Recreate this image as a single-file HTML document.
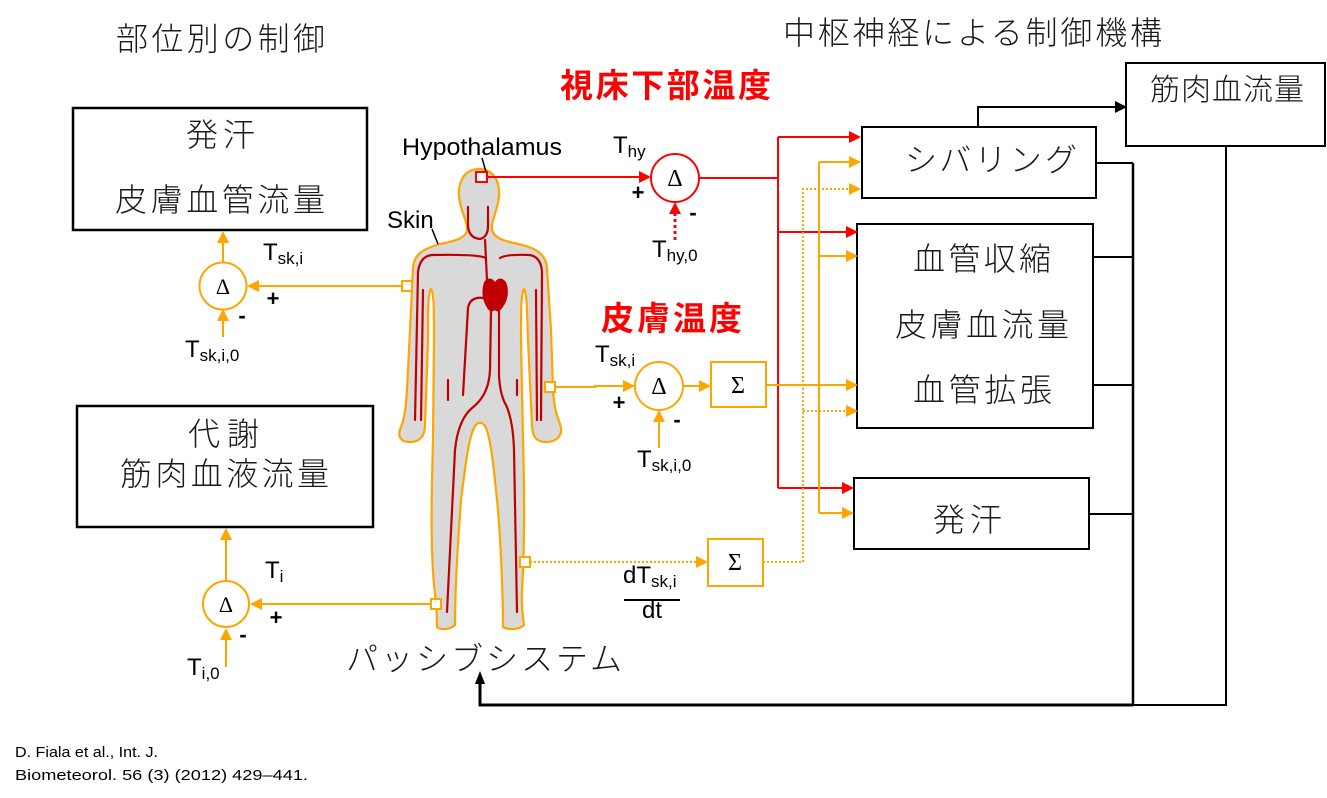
<!DOCTYPE html>
<html><head><meta charset="utf-8"><style>
html,body{margin:0;padding:0;background:#fff;overflow:hidden}
svg{display:block}
.jp{font-family:"Liberation Sans","Noto Sans CJK JP",sans-serif;fill:#1a1a1a;font-weight:300}
.en{font-family:"Liberation Sans",sans-serif;fill:#000}
.sf{font-family:"Liberation Serif","DejaVu Serif",serif;fill:#000}
</style></head><body>
<svg xmlns="http://www.w3.org/2000/svg" width="1327" height="798" viewBox="0 0 1327 798">
<rect width="1327" height="798" fill="#fff"/>

<!-- Titles -->
<text class="jp" x="116" y="50" font-size="32" textLength="209" lengthAdjust="spacing">部位別の制御</text>
<text class="jp" x="783" y="44" font-size="32" textLength="379" lengthAdjust="spacing">中枢神経による制御機構</text>
<text x="560" y="97" font-size="33" font-weight="bold" fill="#ff0000" style="font-family:'Liberation Sans','Noto Sans CJK JP',sans-serif" textLength="211" lengthAdjust="spacing">視床下部温度</text>
<text x="601" y="330" font-size="33" font-weight="bold" fill="#ff0000" style="font-family:'Liberation Sans','Noto Sans CJK JP',sans-serif" textLength="141" lengthAdjust="spacing">皮膚温度</text>

<!-- Left boxes -->
<rect x="73" y="108" width="294" height="122" fill="none" stroke="#000" stroke-width="2.5"/>
<text class="jp" x="186" y="146" font-size="32" textLength="69" lengthAdjust="spacing">発汗</text>
<text class="jp" x="115" y="211" font-size="32" textLength="210" lengthAdjust="spacing">皮膚血管流量</text>
<rect x="77" y="406" width="296" height="121" fill="none" stroke="#000" stroke-width="2.5"/>
<text class="jp" x="188" y="445" font-size="32" textLength="71" lengthAdjust="spacing">代謝</text>
<text class="jp" x="120" y="485" font-size="32" textLength="209" lengthAdjust="spacing">筋肉血液流量</text>

<!-- Right boxes -->
<rect x="862" y="127" width="234" height="71" fill="none" stroke="#000" stroke-width="2"/>
<text class="jp" x="905" y="171" font-size="32" textLength="172" lengthAdjust="spacing">シバリング</text>
<rect x="1126" y="63" width="199" height="83" fill="none" stroke="#000" stroke-width="2"/>
<text class="jp" x="1150" y="100" font-size="30" textLength="154" lengthAdjust="spacing">筋肉血流量</text>
<rect x="857" y="224" width="236" height="204" fill="none" stroke="#000" stroke-width="2"/>
<text class="jp" x="913" y="270" font-size="32" textLength="138" lengthAdjust="spacing">血管収縮</text>
<text class="jp" x="895" y="336" font-size="32" textLength="174" lengthAdjust="spacing">皮膚血流量</text>
<text class="jp" x="913" y="401" font-size="32" textLength="139" lengthAdjust="spacing">血管拡張</text>
<rect x="854" y="478" width="235" height="71" fill="none" stroke="#000" stroke-width="2"/>
<text class="jp" x="933" y="531" font-size="32" textLength="69" lengthAdjust="spacing">発汗</text>

<!-- Body -->
<path d="M479,169 C492,169 500,179 499,196 C498,211 491,219 492,229 C493,238 504,241 518,244 C536,248 546,254 547,268 L551,330 L553,390 C554,405 556,414 560,424 C564,436 556,442 546,442 C536,442 532,436 532,425 L528,340 C527,310 527,293 524,289 C521,293 521,310 521,340 L523,440 C525,500 524,560 522,590 C521,605 523,616 524,625 C519,630 508,630 503,627 C503,600 501,540 497,500 C494,470 491,440 486,428 C483,421 477,421 474,428 C468,440 465,470 461,500 C458,540 455,590 455,625 C450,630 440,630 437,627 C437,615 436,600 434,585 C430,540 432,480 433,440 L434,340 C434,310 434,293 431,289 C428,293 428,310 428,340 L425,425 C425,436 420,442 410,442 C400,442 397,436 401,427 C405,417 406,405 407,390 L410,330 L413,268 C414,254 423,249 440,244 C455,241 467,238 467,229 C467,219 460,211 459,196 C458,179 466,169 479,169 Z" fill="#d9d9d9" stroke="#FFA500" stroke-width="2.2"/>
<g fill="none" stroke="#c00000" stroke-width="2.2" stroke-linecap="round">
<path d="M468,207 L468,226 Q469,238 480,239 Q488,237 488,226 L488,207"/>
<path d="M485,240 L487,280"/>
<path d="M486,258 Q478,254 432,255 Q420,256 418,272 L415,420"/>
<path d="M423,290 L421,420"/>
<path d="M500,258 Q506,254 530,255 Q541,257 542,272 L541,420"/>
<path d="M536,290 L537,420"/>
<path d="M484,298 Q470,296 468,308 L463,395"/>
<path d="M491,310 L490,370 Q489,395 472,408 Q458,420 455,450 L447,612"/>
<path d="M499,310 L499,375 Q500,395 506,405 Q513,420 514,450 L517,612"/>
<path d="M448,380 L448,400"/>
<path d="M517,380 L517,395"/>
</g>
<path d="M484,282 Q490,275 495,282 Q500,275 506,282 Q511,295 503,307 Q498,314 495,310 Q490,314 486,306 Q480,295 484,282 Z" fill="#c00000"/>

<!-- Labels on body -->
<text class="en" x="402" y="155" font-size="24" textLength="160" lengthAdjust="spacingAndGlyphs">Hypothalamus</text>
<text class="en" x="387" y="228" font-size="24">Skin</text>
<line x1="482" y1="158" x2="486" y2="172" stroke="#000" stroke-width="1.5"/>
<line x1="432" y1="229" x2="438" y2="244" stroke="#000" stroke-width="1.5"/>

<!-- Red lines -->
<g fill="none" stroke="#ff0000" stroke-width="2">
<path d="M487,177 H640"/>
<path d="M699,178 H778"/>
<path d="M778,137 V488"/>
<path d="M778,137 H849"/>
<path d="M778,232 H846"/>
<path d="M778,488 H842"/>
<path d="M675,240 V213" stroke-width="3" stroke-dasharray="3 3"/>
</g>
<g fill="#ff0000">
<polygon points="651,177 639,171 639,183"/>
<polygon points="675,202 669,214 681,214"/>
<polygon points="861,137 849,131 849,143"/>
<polygon points="858,232 846,226 846,238"/>
<polygon points="854,488 842,482 842,494"/>
</g>
<circle cx="675" cy="178" r="24" fill="#fff" stroke="#ff0000" stroke-width="2"/>
<text class="sf" x="675" y="186" font-size="24" text-anchor="middle">Δ</text>
<rect x="476" y="172" width="11" height="10" fill="#fff" stroke="#ff0000" stroke-width="2"/>

<!-- Orange lines -->
<g fill="none" stroke="#FFA500" stroke-width="2">
<path d="M223,262 V242"/>
<path d="M407,286 H258"/>
<path d="M223,337 V320"/>
<path d="M226,581 V539"/>
<path d="M436,604 H261"/>
<path d="M226,667 V639"/>
<path d="M550,387 H595 V386 H624"/>
<path d="M659,448 V421"/>
<path d="M683,386 H700"/>
<path d="M766,385 H846"/>
<path d="M819,162 V513"/>
<path d="M819,162 H849"/>
<path d="M819,256 H846"/>
<path d="M819,513 H842"/>
</g>
<g fill="none" stroke="#FFA500" stroke-width="2" stroke-dasharray="2 2">
<path d="M530,562 H697"/>
<path d="M763,562 H803 V189 H849"/>
<path d="M803,411 H846"/>
</g>
<g fill="#FFA500">
<polygon points="223,231 217,243 229,243"/>
<polygon points="247,286 259,280 259,292"/>
<polygon points="223,309 217,321 229,321"/>
<polygon points="226,528 220,540 232,540"/>
<polygon points="250,604 262,598 262,610"/>
<polygon points="226,628 220,640 232,640"/>
<polygon points="635,386 623,380 623,392"/>
<polygon points="659,410 653,422 665,422"/>
<polygon points="711,386 699,380 699,392"/>
<polygon points="858,385 846,379 846,391"/>
<polygon points="861,162 849,156 849,168"/>
<polygon points="858,256 846,250 846,262"/>
<polygon points="854,513 842,507 842,519"/>
<polygon points="708,562 696,556 696,568"/>
<polygon points="861,189 849,183 849,195"/>
<polygon points="858,411 846,405 846,417"/>
</g>
<circle cx="223" cy="286" r="23.5" fill="#fff" stroke="#FFA500" stroke-width="2"/>
<text class="sf" x="223" y="294" font-size="22" text-anchor="middle">Δ</text>
<circle cx="226" cy="604" r="23" fill="#fff" stroke="#FFA500" stroke-width="2"/>
<text class="sf" x="226" y="612" font-size="22" text-anchor="middle">Δ</text>
<circle cx="659" cy="386" r="24" fill="#fff" stroke="#FFA500" stroke-width="2"/>
<text class="sf" x="659" y="394" font-size="24" text-anchor="middle">Δ</text>
<rect x="711" y="362" width="55" height="45" fill="#fff" stroke="#FFA500" stroke-width="2"/>
<text class="sf" x="738" y="393" font-size="24" text-anchor="middle">Σ</text>
<rect x="708" y="539" width="55" height="47" fill="#fff" stroke="#FFA500" stroke-width="2"/>
<text class="sf" x="735" y="570" font-size="24" text-anchor="middle">Σ</text>
<rect x="402" y="281" width="10" height="10" fill="#fff" stroke="#FFA500" stroke-width="2"/>
<rect x="545" y="382" width="10" height="10" fill="#fff" stroke="#FFA500" stroke-width="2"/>
<rect x="520" y="557" width="10" height="10" fill="#fff" stroke="#FFA500" stroke-width="2"/>
<rect x="431" y="599" width="10" height="10" fill="#fff" stroke="#FFA500" stroke-width="2"/>

<!-- Black connectors -->
<g fill="none" stroke="#000">
<path d="M978,127 V107 H1115" stroke-width="2"/>
<path d="M1096,163 H1133" stroke-width="2"/>
<path d="M1093,257 H1133" stroke-width="2"/>
<path d="M1093,385 H1133" stroke-width="2"/>
<path d="M1089,514 H1133" stroke-width="2"/>
<path d="M1133,163 V705" stroke-width="2.5"/>
<path d="M1226,146 V705 H1133" stroke-width="2"/>
<path d="M1133,705 H480 V683" stroke-width="3"/>
</g>
<polygon points="1127,107 1115,101 1115,113" fill="#000"/>
<polygon points="480,671 475,684 485,684" fill="#000"/>

<!-- T labels -->
<text class="en" x="613" y="153" font-size="24">T<tspan font-size="17" dy="4">hy</tspan></text>
<text class="en" x="652" y="257" font-size="24">T<tspan font-size="17" dy="4">hy,0</tspan></text>
<text class="en" x="595" y="362" font-size="24">T<tspan font-size="17" dy="4">sk,i</tspan></text>
<text class="en" x="637" y="467" font-size="24">T<tspan font-size="17" dy="4">sk,i,0</tspan></text>
<text class="en" x="263" y="260" font-size="24">T<tspan font-size="17" dy="4">sk,i</tspan></text>
<text class="en" x="185" y="357" font-size="24">T<tspan font-size="17" dy="4">sk,i,0</tspan></text>
<text class="en" x="265" y="578" font-size="24">T<tspan font-size="17" dy="4">i</tspan></text>
<text class="en" x="187" y="675" font-size="24">T<tspan font-size="17" dy="4">i,0</tspan></text>
<text class="en" x="623" y="583" font-size="24">dT<tspan font-size="17" dy="4">sk,i</tspan></text>
<line x1="624" y1="600" x2="680" y2="600" stroke="#000" stroke-width="2"/>
<text class="en" x="652" y="618" font-size="24" text-anchor="middle">dt</text>

<!-- signs -->
<g class="en" font-size="22" font-weight="bold" text-anchor="middle">
<text x="273" y="306">+</text>
<text x="242" y="323">-</text>
<text x="276" y="625">+</text>
<text x="243" y="642">-</text>
<text x="638" y="200">+</text>
<text x="693" y="220">-</text>
<text x="619" y="410">+</text>
<text x="677" y="427">-</text>
</g>

<!-- Passive system -->
<text class="jp" x="346" y="670" font-size="32" textLength="276" lengthAdjust="spacing">パッシブシステム</text>

<!-- Citation -->
<text class="en" x="15" y="757" font-size="15" textLength="143" lengthAdjust="spacingAndGlyphs" fill="#222">D. Fiala et al., Int. J.</text>
<text class="en" x="15" y="780" font-size="15" textLength="293" lengthAdjust="spacingAndGlyphs" fill="#222">Biometeorol. 56 (3) (2012) 429–441.</text>
</svg>
</body></html>
